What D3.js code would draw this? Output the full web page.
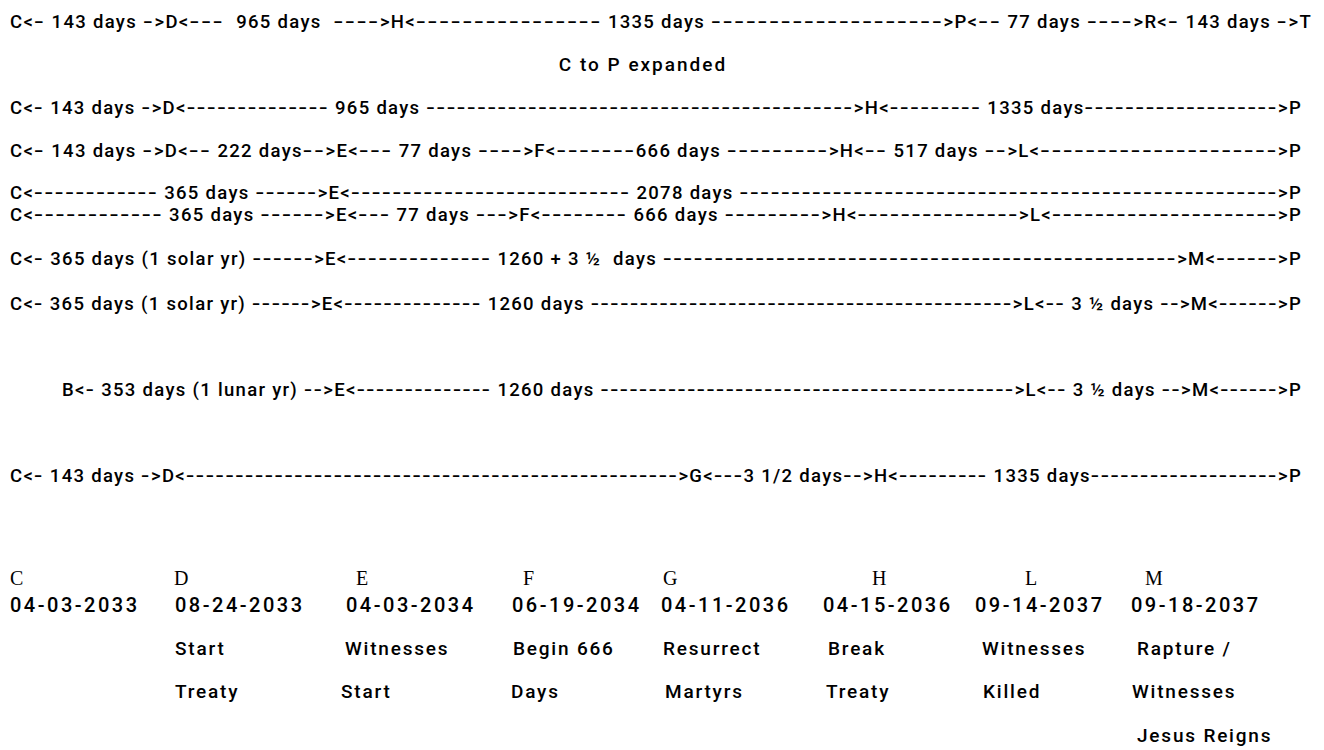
<!DOCTYPE html>
<html><head><meta charset="utf-8">
<script src="https://cdn.jsdelivr.net/npm/d3@7"></script>
<style>
html,body{margin:0;padding:0;background:#fff;}
svg text{white-space:pre;}
</style></head>
<body>
<script>
// ---- data ----
const timelineLines = [
  "C<- 143 days ->D<---  965 days  ---->H<---------------- 1335 days -------------------->P<-- 77 days ---->R<- 143 days ->T",
  "C<- 143 days ->D<-------------- 965 days ------------------------------------------>H<--------- 1335 days------------------->P",
  "C<- 143 days ->D<-- 222 days-->E<--- 77 days ---->F<-------666 days --------->H<-- 517 days -->L<--------------------->P",
  "C<------------ 365 days ------>E<--------------------------- 2078 days ---------------------------------------------------->P",
  "C<------------ 365 days ------>E<--- 77 days --->F<-------- 666 days --------->H<--------------->L<--------------------->P",
  "C<- 365 days (1 solar yr) ------>E<-------------- 1260 + 3 \u00BD  days -------------------------------------------------->M<------>P",
  "C<- 365 days (1 solar yr) ------>E<-------------- 1260 days ------------------------------------------->L<-- 3 \u00BD days -->M<------>P",
  "B<- 353 days (1 lunar yr) -->E<-------------- 1260 days ------------------------------------------->L<-- 3 \u00BD days -->M<------>P",
  "C<- 143 days ->D<-------------------------------------------------->G<---3 1/2 days-->H<--------- 1335 days------------------->P"
];
const subtitle = "C to P expanded";
const eventLetters = ["C","D","E","F","G","H","L","M"];
const eventDates = ["04-03-2033","08-24-2033","04-03-2034","06-19-2034","04-11-2036","04-15-2036","09-14-2037","09-18-2037"];
const eventDesc1 = ["","Start","Witnesses","Begin 666","Resurrect","Break","Witnesses","Rapture /"];
const eventDesc2 = ["","Treaty","Start","Days","Martyrs","Treaty","Killed","Witnesses"];
const eventDesc3 = ["","","","","","","","Jesus Reigns"];

// ---- layout ----
const W = 1324, H = 750;
const lineY = [22, 108, 151, 192.5, 214.5, 259, 304, 390, 476];
const lineX0 = [10, 10, 10, 10, 10, 10, 10, 62, 10];
const lineX1 = [1312, 1302, 1302, 1302, 1302, 1302, 1302, 1302, 1302];
const letterX = [10, 174, 356, 523, 663, 872, 1025, 1145];
const dateX = [10, 175, 346, 512, 661, 823, 975, 1131];
const desc1X = [10, 175, 345, 513, 663, 828, 982, 1137];
const desc2X = [10, 175, 341, 511, 665, 826, 983, 1132];
const desc3X = [10, 175, 341, 511, 665, 826, 983, 1137];
const textTracking = 1.3;
const dashTracking = 1.2;
const lineFont = 18.5;

const sans = "Roboto, 'Noto Sans', sans-serif";
const svg = d3.select("body").append("svg").attr("width", W).attr("height", H);

// timeline lines: text pieces at natural width, hyphen runs stretched to fill each line's extent
const gl = svg.append("g");
timelineLines.forEach((line, i) => {
  const parts = line.match(/-+|[^-]+/g);
  const row = gl.append("g");
  const els = parts.map(p => row.append("text")
    .attr("y", lineY[i]).attr("dominant-baseline", "central")
    .attr("font-family", sans).attr("font-weight", 500).attr("font-size", lineFont)
    .attr("letter-spacing", p[0] === "-" ? dashTracking : textTracking)
    .attr("fill", "#000").text(p));
  let textW = 0, nd = 0;
  parts.forEach((p, k) => {
    if (p[0] === "-") nd += p.length;
    else textW += els[k].node().getComputedTextLength();
  });
  const dashAdv = (lineX1[i] - lineX0[i] - textW) / nd;
  let x = lineX0[i];
  parts.forEach((p, k) => {
    els[k].attr("x", x);
    if (p[0] === "-") {
      const w = p.length * dashAdv;
      els[k].attr("textLength", w).attr("lengthAdjust", "spacingAndGlyphs");
      x += w;
    } else {
      x += els[k].node().getComputedTextLength();
    }
  });
});

svg.append("text").attr("x", 643).attr("y", 64).attr("text-anchor", "middle")
  .attr("dominant-baseline", "central")
  .attr("font-family", sans).attr("font-weight", 500).attr("font-size", 19)
  .attr("letter-spacing", 2)
  .text(subtitle);

const ev = d3.range(eventLetters.length);
const g = svg.append("g");
g.selectAll("text.l").data(ev).join("text").attr("class", "l")
  .attr("x", i => letterX[i]).attr("y", 578).attr("dominant-baseline", "central")
  .attr("font-family", "'Liberation Serif', 'Times New Roman', serif").attr("font-size", 20)
  .text(i => eventLetters[i]);
g.selectAll("text.d").data(ev).join("text").attr("class", "d")
  .attr("x", i => dateX[i]).attr("y", 605).attr("dominant-baseline", "central")
  .attr("font-family", sans).attr("font-weight", 500).attr("font-size", 20)
  .attr("textLength", 127).attr("lengthAdjust", "spacing")
  .text(i => eventDates[i]);
function descRow(cls, arr, xs, y) {
  g.selectAll("text." + cls).data(ev.filter(i => arr[i])).join("text").attr("class", cls)
    .attr("x", i => xs[i]).attr("y", y).attr("dominant-baseline", "central")
    .attr("font-family", sans).attr("font-weight", 500).attr("font-size", 19)
    .attr("letter-spacing", 1.8)
    .text(i => arr[i]);
}
descRow("a", eventDesc1, desc1X, 648);
descRow("b", eventDesc2, desc2X, 691);
descRow("c", eventDesc3, desc3X, 735);
</script>
</body></html>
